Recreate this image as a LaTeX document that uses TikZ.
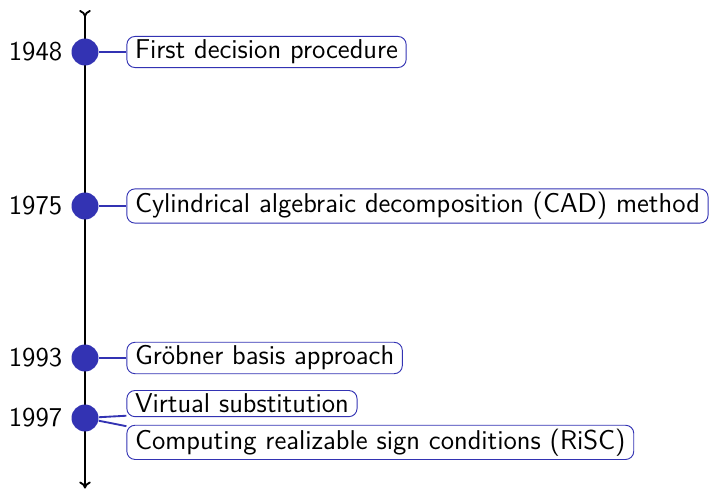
\documentclass[tikz,border=0pt]{standalone}
\usetikzlibrary{positioning, arrows.meta}
\definecolor{tlblue}{RGB}{51,51,179}
\begin{document}
\begin{tikzpicture}[x=0.43pt, y=-0.43pt, font=\fontsize{11.7}{14}\selectfont\sffamily]
        \tikzstyle{event}=[circle, fill=tlblue, minimum size=11.6pt, inner sep=0pt]
        \tikzstyle{year}=[inner sep=0pt]
        \tikzstyle{milestone}=[draw=tlblue, rounded corners=3.5pt, inner xsep=3.5pt, inner ysep=1.5pt]
        \tikzstyle{link}=[tlblue, thick]

        \useasboundingbox (0,0) rectangle (709,490);

        % time axis
        \coordinate (start) at (85,10);
        \coordinate (end) at (85,488.5);
        \draw[thick, arrows={To[reversed,width=5pt,length=3pt]-To[width=5pt,length=3pt]}] (start) -- (end);

        \node[event] (d1948) at (85,52) {};
        \node[event] (d1975) at (85,206) {};
        \node[event] (d1993) at (85,358) {};
        \node[event] (d1997) at (85,418) {};

        \node[year, left=3.6pt of d1948] (y1948) {1948};
        \node[year, left=3.6pt of d1975] (y1975) {1975};
        \node[year, left=3.6pt of d1993] (y1993) {1993};
        \node[year, left=3.6pt of d1997] (y1997) {1997};

        \node[milestone, right=11.8pt of d1948] (first) {First decision procedure};
        \node[milestone, right=11.8pt of d1975] (cad) {Cylindrical algebraic decomposition (CAD) method};
        \node[milestone, right=11.8pt of d1993] (groebner) {Gröbner basis approach};
        \node[milestone, right=11.8pt of d1997, yshift=6.2pt] (vs) {Virtual substitution};
        \node[milestone, below=3.3pt of vs.south west, anchor=north west] (risc) {Computing realizable sign conditions (RiSC)};

        \draw[link] (d1948) -- (first);
        \draw[link] (d1975) -- (cad);
        \draw[link] (d1993) -- (groebner);
        \draw[link] (d1997) -- ([yshift=0.6pt]vs.south west);
        \draw[link] (d1997) -- ([yshift=-0.6pt]risc.north west);
    \end{tikzpicture}
\end{document}
